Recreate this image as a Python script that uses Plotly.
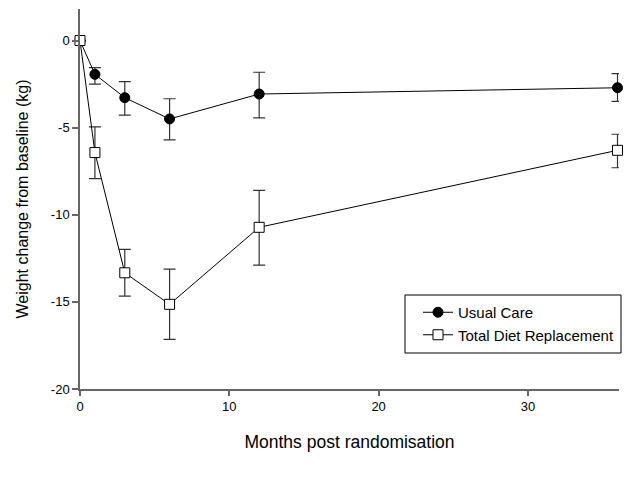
import plotly.graph_objects as go

months = [0, 1, 3, 6, 12, 36]

usual_care = [0, -1.94, -3.28, -4.5, -3.07, -2.71]
usual_care_err_up = [0, 0.38, 0.92, 1.16, 1.25, 0.81]
usual_care_err_down = [0, 0.56, 1.0, 1.2, 1.37, 0.78]

tdr = [0, -6.43, -13.33, -15.14, -10.72, -6.3]
tdr_err_up = [0, 1.47, 1.34, 2.02, 2.12, 0.92]
tdr_err_down = [0, 1.5, 1.34, 2.01, 2.17, 1.0]

x_ticks = [0, 10, 20, 30]
y_ticks = [-20, -15, -10, -5, 0]
y_tick_labels = ["-20", "-15", "-10", "-5", "0"]

L, R, T, B = 80, 10, 9, 92
W, H = 629, 481
pw, ph = W - L - R, H - T - B

fig = go.Figure()

fig.add_trace(go.Scatter(
    x=months, y=usual_care, name="Usual Care", mode="lines+markers",
    line=dict(color="black", width=1), cliponaxis=False,
    marker=dict(symbol="circle", size=10, color="black", line=dict(color="black", width=1)),
    error_y=dict(type="data", symmetric=False, array=usual_care_err_up,
                 arrayminus=usual_care_err_down, color="#333333", thickness=1.2, width=6),
))

fig.add_trace(go.Scatter(
    x=months, y=tdr, name="Total Diet Replacement", mode="lines+markers",
    line=dict(color="black", width=1), cliponaxis=False,
    marker=dict(symbol="square", size=10, color="white", line=dict(color="black", width=1)),
    error_y=dict(type="data", symmetric=False, array=tdr_err_up,
                 arrayminus=tdr_err_down, color="#333333", thickness=1.2, width=6),
))

# legend frame
fig.add_shape(type="rect", xref="paper", yref="paper",
              x0=(405 - L) / pw, x1=(621 - L) / pw,
              y0=(T + ph - 353) / ph, y1=(T + ph - 295) / ph,
              line=dict(color="black", width=1), fillcolor="rgba(0,0,0,0)", layer="above")

fig.update_layout(
    width=W, height=H,
    margin=dict(l=L, r=R, t=T, b=B, autoexpand=False),
    paper_bgcolor="white", plot_bgcolor="white",
    font=dict(family="Liberation Sans, Arial, sans-serif", color="black", size=12),
    showlegend=True,
    legend=dict(
        x=(418 - L) / pw, xanchor="left", y=(T + ph - 296) / ph, yanchor="top",
        borderwidth=0, bgcolor="rgba(0,0,0,0)",
        font=dict(size=15), tracegroupgap=0,
    ),
    xaxis=dict(
        range=[0, 36.1], tickvals=x_ticks, showgrid=False, zeroline=False,
        showline=True, linecolor="#666666", linewidth=1.5, automargin=False,
        ticks="outside", ticklen=5, tickcolor="#666666", tickwidth=1.5,
        title=dict(text="Months post randomisation", font=dict(size=17.5), standoff=22),
        tickfont=dict(size=13),
    ),
    yaxis=dict(
        range=[-20, 1.81], tickvals=y_ticks, ticktext=y_tick_labels,
        showgrid=False, zeroline=False,
        showline=True, linecolor="#666666", linewidth=1.5, automargin=False,
        ticks="outside", ticklen=6, tickcolor="#666666", tickwidth=1.5,
        title=dict(text="Weight change from baseline (kg)", font=dict(size=16), standoff=18),
        tickfont=dict(size=13),
    ),
)

fig.write_html("out.html", config={"displayModeBar": False},
               post_script="document.body.style.margin='0';")
